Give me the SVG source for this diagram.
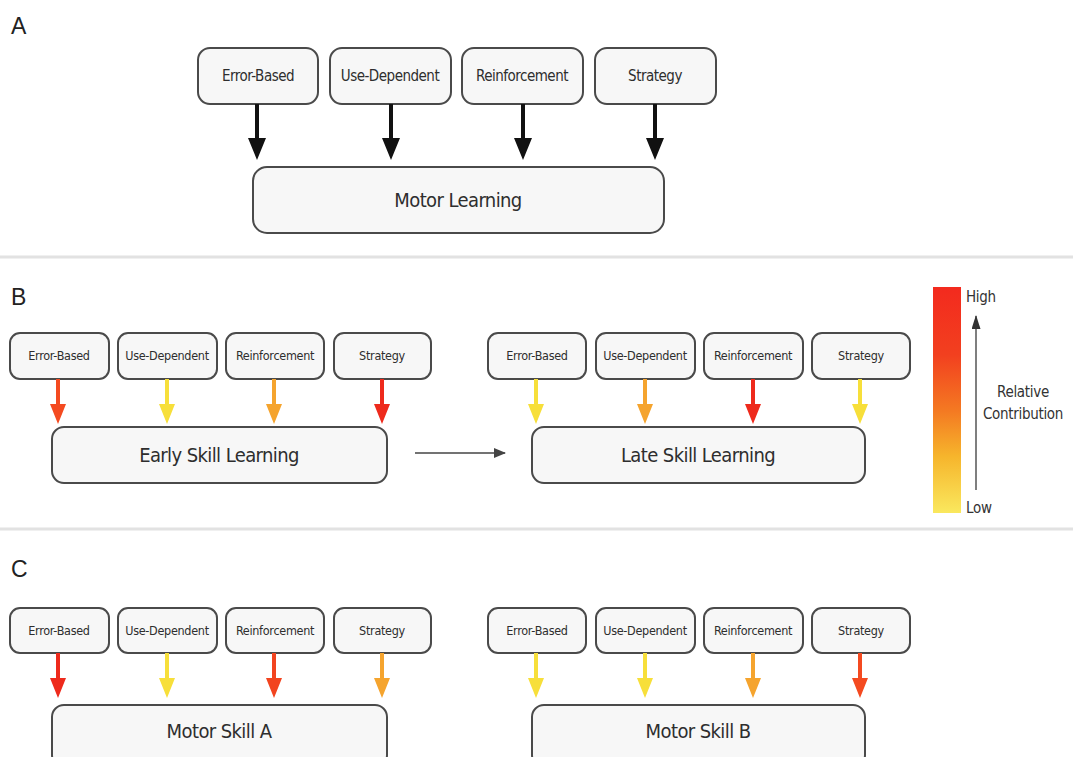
<svg xmlns="http://www.w3.org/2000/svg" xmlns:xlink="http://www.w3.org/1999/xlink" width="1073" height="757" viewBox="0 0 1073 757">
<style>
  .box { fill: #f7f7f7; stroke: #4a4a4a; stroke-width: 2; }
  .lbl { font-family: "Liberation Sans Narrow", "DejaVu Sans Condensed", "Liberation Sans", sans-serif; fill: #2e2e2e; text-anchor: middle; }
  .s15 { font-size: 15px; letter-spacing: -0.5px; }
  .s12 { font-size: 12.5px; letter-spacing: -0.3px; }
  .big { font-size: 20px; letter-spacing: -0.6px; }
  .panel { font-family: "Liberation Sans", Arial, sans-serif; font-size: 23px; fill: #222; }
  .sep { stroke: #e2e2e2; stroke-width: 3; }
  .leg { font-family: "Liberation Sans Narrow", "DejaVu Sans Condensed", "Liberation Sans", sans-serif; font-size: 15px; fill: #333; letter-spacing: -0.3px; }
</style>
<defs>
  <path id="arrA" d="M-2,0 L2,0 L2,34 L9,34 L0,56 L-9,34 L-2,34 Z"/>
  <path id="arrB" d="M-2,0 L2,0 L2,25 L8,25 L0,45 L-8,25 L-2,25 Z"/>
  <linearGradient id="heat" x1="0" y1="0" x2="0" y2="1">
    <stop offset="0" stop-color="#f32a1e"/>
    <stop offset="0.3" stop-color="#f2401f"/>
    <stop offset="0.55" stop-color="#f47a22"/>
    <stop offset="0.75" stop-color="#f6b52c"/>
    <stop offset="1" stop-color="#fae85e"/>
  </linearGradient>
  <marker id="legHead" markerWidth="14" markerHeight="9" refX="13" refY="4.5" orient="auto" markerUnits="userSpaceOnUse" viewBox="0 0 14 9">
    <path d="M0,0 L14,4.5 L0,9 Z" fill="#333"/>
  </marker>
  <marker id="transHead" markerWidth="12" markerHeight="10" refX="11" refY="5" orient="auto" markerUnits="userSpaceOnUse" viewBox="0 0 12 10">
    <path d="M0,0 L12,5 L0,10 Z" fill="#444"/>
  </marker>
</defs>

<rect width="1073" height="757" fill="#ffffff"/>

<!-- Panel labels and separators -->
<text class="panel" x="11" y="34">A</text>
<text class="panel" x="11" y="305">B</text>
<text class="panel" x="11" y="577">C</text>
<line class="sep" x1="0" y1="257" x2="1073" y2="257"/>
<line class="sep" x1="0" y1="529" x2="1073" y2="529"/>

<!-- Panel A -->
<g id="a-error"><rect class="box" x="198" y="48" width="120" height="56" rx="12"/><text class="lbl s15" x="258" y="81">Error-Based</text></g>
<g id="a-use"><rect class="box" x="330" y="48" width="121" height="56" rx="12"/><text class="lbl s15" x="390" y="81">Use-Dependent</text></g>
<g id="a-reinf"><rect class="box" x="462" y="48" width="121" height="56" rx="12"/><text class="lbl s15" x="522" y="81">Reinforcement</text></g>
<g id="a-strat"><rect class="box" x="595" y="48" width="121" height="56" rx="12"/><text class="lbl s15" x="655" y="81">Strategy</text></g>
<g id="a-motor"><rect class="box" x="253" y="167" width="411" height="66" rx="14"/><text class="lbl big" x="458" y="207">Motor Learning</text></g>

<!-- Panel B left -->
<g id="b1-error"><rect class="box" x="10" y="333" width="99" height="46" rx="10"/><text class="lbl s12" x="59" y="360">Error-Based</text></g>
<g id="b1-use"><rect class="box" x="118" y="333" width="99" height="46" rx="10"/><text class="lbl s12" x="167" y="360">Use-Dependent</text></g>
<g id="b1-reinf"><rect class="box" x="226" y="333" width="98" height="46" rx="10"/><text class="lbl s12" x="275" y="360">Reinforcement</text></g>
<g id="b1-strat"><rect class="box" x="334" y="333" width="97" height="46" rx="10"/><text class="lbl s12" x="382" y="360">Strategy</text></g>
<g id="b-early"><rect class="box" x="52" y="427" width="335" height="56" rx="12"/><text class="lbl big" x="219" y="462">Early Skill Learning</text></g>

<!-- Panel B right -->
<g id="b2-error"><rect class="box" x="488" y="333" width="98" height="46" rx="10"/><text class="lbl s12" x="537" y="360">Error-Based</text></g>
<g id="b2-use"><rect class="box" x="596" y="333" width="99" height="46" rx="10"/><text class="lbl s12" x="645" y="360">Use-Dependent</text></g>
<g id="b2-reinf"><rect class="box" x="704" y="333" width="99" height="46" rx="10"/><text class="lbl s12" x="753" y="360">Reinforcement</text></g>
<g id="b2-strat"><rect class="box" x="812" y="333" width="98" height="46" rx="10"/><text class="lbl s12" x="861" y="360">Strategy</text></g>
<g id="b-late"><rect class="box" x="532" y="427" width="333" height="56" rx="12"/><text class="lbl big" x="698" y="462">Late Skill Learning</text></g>

<!-- Legend -->
<g id="legend">
  <rect x="933" y="287" width="28" height="226" fill="url(#heat)"/>
  <line x1="976" y1="490" x2="976" y2="316" stroke="#555" stroke-width="1.5" marker-end="url(#legHead)"/>
  <text class="leg" x="966" y="302">High</text>
  <text class="leg" x="966" y="513">Low</text>
  <text class="leg" x="1023" y="397" text-anchor="middle">Relative</text>
  <text class="leg" x="1023" y="419" text-anchor="middle">Contribution</text>
</g>

<!-- Panel C left -->
<g id="c1-error"><rect class="box" x="10" y="608" width="99" height="45" rx="10"/><text class="lbl s12" x="59" y="635">Error-Based</text></g>
<g id="c1-use"><rect class="box" x="118" y="608" width="99" height="45" rx="10"/><text class="lbl s12" x="167" y="635">Use-Dependent</text></g>
<g id="c1-reinf"><rect class="box" x="226" y="608" width="98" height="45" rx="10"/><text class="lbl s12" x="275" y="635">Reinforcement</text></g>
<g id="c1-strat"><rect class="box" x="334" y="608" width="97" height="45" rx="10"/><text class="lbl s12" x="382" y="635">Strategy</text></g>
<g id="c-skillA"><rect class="box" x="52" y="705" width="335" height="62" rx="12"/><text class="lbl big" x="219" y="738">Motor Skill A</text></g>

<!-- Panel C right -->
<g id="c2-error"><rect class="box" x="488" y="608" width="98" height="45" rx="10"/><text class="lbl s12" x="537" y="635">Error-Based</text></g>
<g id="c2-use"><rect class="box" x="596" y="608" width="99" height="45" rx="10"/><text class="lbl s12" x="645" y="635">Use-Dependent</text></g>
<g id="c2-reinf"><rect class="box" x="704" y="608" width="99" height="45" rx="10"/><text class="lbl s12" x="753" y="635">Reinforcement</text></g>
<g id="c2-strat"><rect class="box" x="812" y="608" width="98" height="45" rx="10"/><text class="lbl s12" x="861" y="635">Strategy</text></g>
<g id="c-skillB"><rect class="box" x="532" y="705" width="333" height="62" rx="12"/><text class="lbl big" x="698" y="738">Motor Skill B</text></g>

<!-- Connectors -->
<g id="connectors">
  <use xlink:href="#arrA" href="#arrA" transform="translate(257,104)" fill="#111"/>
  <use xlink:href="#arrA" href="#arrA" transform="translate(391,104)" fill="#111"/>
  <use xlink:href="#arrA" href="#arrA" transform="translate(523,104)" fill="#111"/>
  <use xlink:href="#arrA" href="#arrA" transform="translate(655,104)" fill="#111"/>

  <use href="#arrB" transform="translate(58,379)" fill="#f44a20"/>
  <use href="#arrB" transform="translate(167,379)" fill="#f7df3a"/>
  <use href="#arrB" transform="translate(274,379)" fill="#f5a42e"/>
  <use href="#arrB" transform="translate(382,379)" fill="#ee2a1c"/>

  <use href="#arrB" transform="translate(536,379)" fill="#f7df3a"/>
  <use href="#arrB" transform="translate(645,379)" fill="#f5a42e"/>
  <use href="#arrB" transform="translate(753,379)" fill="#ee2a1c"/>
  <use href="#arrB" transform="translate(860,379)" fill="#f7df3a"/>

  <line x1="415" y1="453" x2="505" y2="453" stroke="#444" stroke-width="1.5" marker-end="url(#transHead)"/>

  <use href="#arrB" transform="translate(58,653)" fill="#ee2a1c"/>
  <use href="#arrB" transform="translate(167,653)" fill="#f7df3a"/>
  <use href="#arrB" transform="translate(274,653)" fill="#f2441f"/>
  <use href="#arrB" transform="translate(382,653)" fill="#f5a42e"/>

  <use href="#arrB" transform="translate(536,653)" fill="#f7df3a"/>
  <use href="#arrB" transform="translate(645,653)" fill="#f7df3a"/>
  <use href="#arrB" transform="translate(753,653)" fill="#f5a42e"/>
  <use href="#arrB" transform="translate(860,653)" fill="#f44a20"/>
</g>
</svg>
